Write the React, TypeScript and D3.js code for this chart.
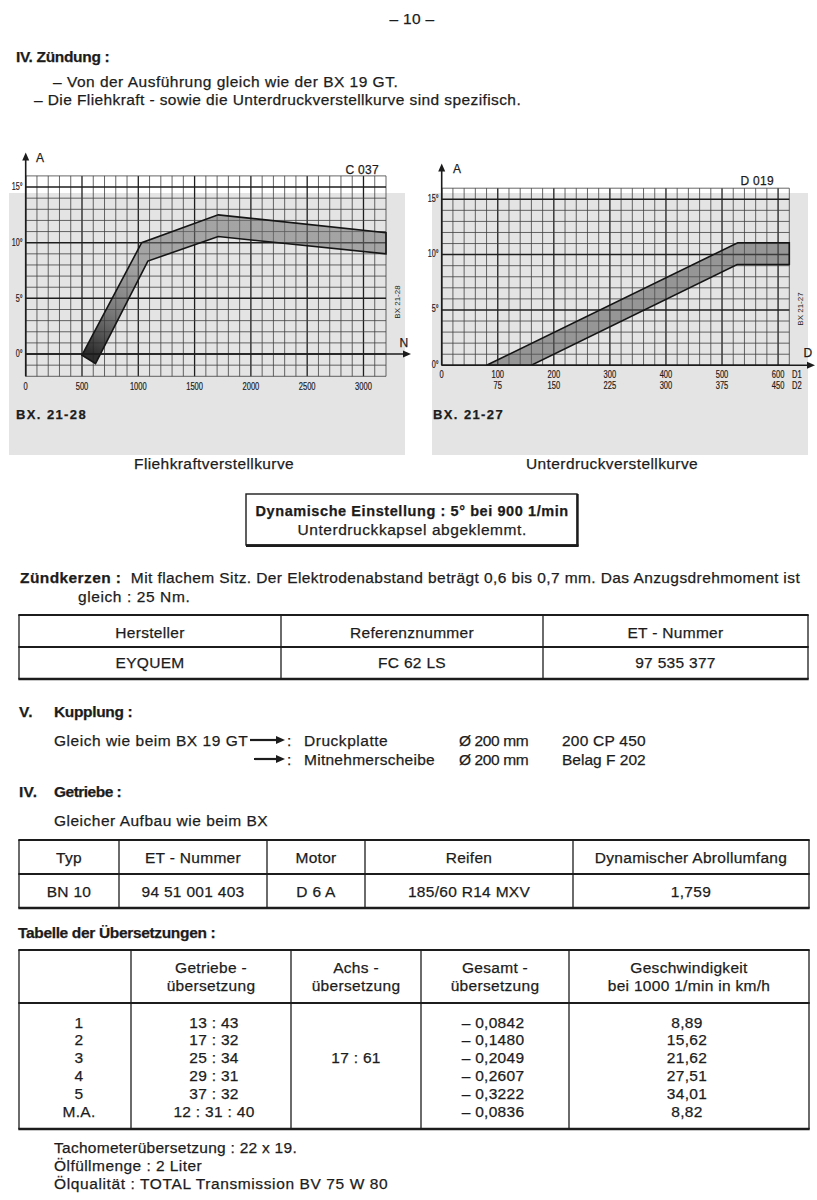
import { useEffect, useRef } from 'react';
import * as d3 from 'd3';

const W = 817;
const H = 1200;
const FONT = "'Liberation Sans', Arial, Helvetica, sans-serif";
const INK = '#1c1c1c';

// Fliehkraftverstellkurve (BX 21-28): advance in degrees over engine speed (1/min)
const fliehUpper: [number, number][] = [[500, -0.1], [1030, 10], [1710, 12.5], [3200, 10.9]];
const fliehLower: [number, number][] = [[620, -0.85], [1085, 8.35], [1710, 10.55], [3200, 9.0]];
const fliehXTicks = [0, 500, 1000, 1500, 2000, 2500, 3000];

// Unterdruckverstellkurve (BX 21-27): advance in degrees over depression D1 / D2
const unterUpper: [number, number][] = [[80, 0], [528, 11.07], [620, 11.07]];
const unterLower: [number, number][] = [[160, 0], [527, 9.1], [620, 9.1]];
const unterD1Ticks = [0, 100, 200, 300, 400, 500, 600];
const unterD2Ticks = ['', '75', '150', '225', '300', '375', '450'];

const degTicks = [0, 5, 10, 15];

// Zündkerzen
const plugHeader = ['Hersteller', 'Referenznummer', 'ET - Nummer'];
const plugRow = ['EYQUEM', 'FC 62 LS', '97 535 377'];

// Getriebe
const gearboxHeader = ['Typ', 'ET - Nummer', 'Motor', 'Reifen', 'Dynamischer Abrollumfang'];
const gearboxRow = ['BN 10', '94 51 001 403', 'D 6 A', '185/60 R14 MXV', '1,759'];

// Tabelle der Übersetzungen
const ratioHeader = [[''], ['Getriebe -', 'übersetzung'], ['Achs -', 'übersetzung'], ['Gesamt -', 'übersetzung'], ['Geschwindigkeit', 'bei 1000 1/min in km/h']];
const gears = ['1', '2', '3', '4', '5', 'M.A.'];
const gearRatios = ['13 : 43', '17 : 32', '25 : 34', '29 : 31', '37 : 32', '12 : 31 : 40'];
const axleRatio = '17 : 61';
const totalRatios = ['– 0,0842', '– 0,1480', '– 0,2049', '– 0,2607', '– 0,3222', '– 0,0836'];
const speeds = ['8,89', '15,62', '21,62', '27,51', '34,01', '8,82'];

type TOpts = { size?: number; anchor?: string; bold?: boolean; len?: number };

export default function App() {
    const ref = useRef<SVGSVGElement | null>(null);

    useEffect(() => {
        if (!ref.current) return;
        const svg = d3.select(ref.current).attr('width', W).attr('height', H);
        svg.selectAll('*').remove();
        svg.append('rect').attr('width', W).attr('height', H).attr('fill', '#ffffff');

        const g = svg.append('g').attr('font-family', FONT).attr('fill', INK);

        const text = (x: number, y: number, s: string, o: TOpts = {}) => {
            const t = g
                .append('text')
                .attr('x', x)
                .attr('y', y)
                .attr('dominant-baseline', 'central')
                .attr('font-size', o.size ?? 15.5)
                .attr('text-anchor', o.anchor ?? 'start')
                .attr('letter-spacing', 0.3)
                .attr('stroke', INK)
                .attr('stroke-width', 0.25)
                .style('white-space', 'pre')
                .text(s);
            if (o.bold) t.attr('font-weight', 'bold');
            if (o.len) t.attr('textLength', o.len).attr('lengthAdjust', 'spacing');
            return t;
        };

        // condensed small print used on the charts
        const small = (x: number, y: number, s: string, anchor = 'middle', size = 10.5) =>
            g
                .append('text')
                .attr('transform', `translate(${x},${y}) scale(0.72,1)`)
                .attr('text-anchor', anchor)
                .attr('dominant-baseline', 'central')
                .attr('font-size', size)
                .attr('stroke', INK)
                .attr('stroke-width', 0.2)
                .text(s);

        const line = (x1: number, y1: number, x2: number, y2: number, w: number, color = INK) =>
            g
                .append('line')
                .attr('x1', x1)
                .attr('y1', y1)
                .attr('x2', x2)
                .attr('y2', y2)
                .attr('stroke', color)
                .attr('stroke-width', w);

        const head = (x: number, y: number, dir: 'up' | 'right', len = 8, half = 3.5) => {
            const pts =
                dir === 'up'
                    ? [[x, y], [x - half, y + len], [x + half, y + len]]
                    : [[x, y], [x - len, y - half], [x - len, y + half]];
            g.append('path').attr('d', d3.line()(pts as [number, number][]) + 'Z').attr('fill', INK);
        };

        // ---------- page heading ----------
        text(412, 18, '– 10 –', { anchor: 'middle' });
        text(16, 56, 'IV. Zündung :', { bold: true, len: 94 });
        text(53, 81, '– Von der Ausführung gleich wie der BX 19 GT.', { len: 345 });
        text(34, 99, '– Die Fliehkraft - sowie die Unterdruckverstellkurve sind spezifisch.', { len: 487 });

        // ---------- grey scan panels ----------
        g.append('rect').attr('x', 9).attr('y', 193).attr('width', 396).attr('height', 262).attr('fill', '#e4e4e4');
        g.append('rect').attr('x', 432).attr('y', 193).attr('width', 376).attr('height', 262).attr('fill', '#e4e4e4');

        // ---------- charts ----------
        type ChartCfg = {
            x: d3.ScaleLinear<number, number>;
            y: d3.ScaleLinear<number, number>;
            xMax: number;
            xMinor: number;
            xMajor: number;
            yMin: number;
            yMax: number;
            upper: [number, number][];
            lower: [number, number][];
            fill: string;
        };

        const drawChart = (c: ChartCfg) => {
            const { x, y } = c;
            d3.range(0, c.xMax + 0.001, c.xMinor).forEach((v) => {
                const major = Math.abs(v % c.xMajor) < 1e-6;
                line(x(v), y(c.yMin), x(v), y(c.yMax), major ? 1.3 : 0.8, major ? '#1e1e1e' : '#404040');
            });
            d3.range(c.yMin, c.yMax + 0.001, 1).forEach((v) => {
                const major = v % 5 === 0;
                line(x(0), y(v), x(c.xMax), y(v), major ? 1.5 : 0.8, major ? '#1e1e1e' : '#404040');
            });
            const path = d3
                .line<[number, number]>()
                .x((d) => x(d[0]))
                .y((d) => y(d[1]));
            const pts = [...c.upper, ...[...c.lower].reverse()];
            g.append('path')
                .attr('d', path(pts) + 'Z')
                .attr('fill', c.fill)
                .attr('stroke', '#151515')
                .attr('stroke-width', 1.6)
                .attr('stroke-linejoin', 'miter');
        };

        // left: Fliehkraft
        const xL = d3.scaleLinear().domain([0, 3200]).range([25.7, 386]);
        const yL = d3.scaleLinear().domain([-2, 16]).range([376.3, 175.9]);

        const defs = svg.append('defs');
        const grad = defs
            .append('linearGradient')
            .attr('id', 'fliehGrad')
            .attr('gradientUnits', 'userSpaceOnUse')
            .attr('x1', xL(600))
            .attr('y1', yL(0))
            .attr('x2', xL(1000))
            .attr('y2', yL(8));
        grad.append('stop').attr('offset', 0).attr('stop-color', '#1e1e1e').attr('stop-opacity', 0.92);
        grad.append('stop').attr('offset', 0.45).attr('stop-color', '#4a4a4a').attr('stop-opacity', 0.7);
        grad.append('stop').attr('offset', 1).attr('stop-color', '#707070').attr('stop-opacity', 0.55);

        drawChart({
            x: xL,
            y: yL,
            xMax: 3200,
            xMinor: 100,
            xMajor: 500,
            yMin: -2,
            yMax: 16,
            upper: fliehUpper,
            lower: fliehLower,
            fill: 'url(#fliehGrad)',
        });
        // axes
        line(xL(0), yL(-2), xL(0), 160, 1.6);
        head(xL(0), 152.5, 'up');
        line(xL(0), yL(0), 403, yL(0), 1.6);
        head(411, yL(0), 'right');
        text(36, 158, 'A', { size: 12 });
        text(404, 343, 'N', { size: 12, anchor: 'middle' });
        text(379, 170, 'C 037', { size: 12, anchor: 'end' });
        degTicks.forEach((v) => small(xL(0) - 3, yL(v), `${v}°`, 'end', 10));
        fliehXTicks.forEach((v) => small(xL(v), 387, String(v)));
        g.append('text')
            .attr('transform', 'translate(397,302) rotate(-90)')
            .attr('text-anchor', 'middle')
            .attr('dominant-baseline', 'central')
            .attr('font-size', 8)
            .text('BX 21-28');
        text(16, 414, 'BX. 21-28', { size: 13, bold: true, len: 70 });

        // right: Unterdruck
        const xR = d3.scaleLinear().domain([0, 620]).range([441.7, 789.3]);
        const yR = d3.scaleLinear().domain([0, 16]).range([365.3, 188.2]);
        drawChart({
            x: xR,
            y: yR,
            xMax: 620,
            xMinor: 20,
            xMajor: 100,
            yMin: 0,
            yMax: 16,
            upper: unterUpper,
            lower: unterLower,
            fill: 'rgba(85,85,85,0.55)',
        });
        line(xR(0), yR(0), xR(0), 171, 1.6);
        head(xR(0), 163.5, 'up');
        line(xR(0), yR(0), 807, yR(0), 1.6);
        head(815, yR(0), 'right');
        text(453, 169, 'A', { size: 12 });
        text(808, 353, 'D', { size: 12, anchor: 'middle' });
        text(774, 181, 'D 019', { size: 12, anchor: 'end' });
        degTicks.forEach((v) => small(xR(0) - 3, yR(v) - 1, `${v}°`, 'end', 10));
        unterD1Ticks.forEach((v) => small(xR(v), 375, String(v)));
        unterD2Ticks.forEach((s, i) => small(xR(unterD1Ticks[i]), 385.5, s));
        small(792, 375, 'D1', 'start');
        small(792, 385.5, 'D2', 'start');
        g.append('text')
            .attr('transform', 'translate(800,309) rotate(-90)')
            .attr('text-anchor', 'middle')
            .attr('dominant-baseline', 'central')
            .attr('font-size', 8)
            .text('BX 21-27');
        text(433, 414, 'BX. 21-27', { size: 13, bold: true, len: 70 });

        text(214, 463, 'Fliehkraftverstellkurve', { anchor: 'middle', len: 160 });
        text(612, 463, 'Unterdruckverstellkurve', { anchor: 'middle', len: 172 });

        // ---------- boxed setting ----------
        g.append('rect')
            .attr('x', 246)
            .attr('y', 494)
            .attr('width', 331)
            .attr('height', 51)
            .attr('fill', 'none')
            .attr('stroke', INK)
            .attr('stroke-width', 1.4);
        line(246, 545.6, 578.5, 545.6, 2.6);
        line(577.6, 494, 577.6, 546.5, 2.2);
        text(412, 511, 'Dynamische Einstellung : 5° bei 900 1/min', { anchor: 'middle', bold: true, size: 14.5, len: 313 });
        text(412, 529, 'Unterdruckkapsel abgeklemmt.', { anchor: 'middle', len: 229 });

        // ---------- Zündkerzen ----------
        const zk = text(20, 577, '', { len: 780 });
        zk.append('tspan').attr('font-weight', 'bold').text('Zündkerzen :');
        zk.append('tspan').text('  Mit flachem Sitz. Der Elektrodenabstand beträgt 0,6 bis 0,7 mm. Das Anzugsdrehmoment ist');
        text(78, 596, 'gleich : 25 Nm.', { len: 112 });

        // generic ruled table
        const table = (cols: number[], rows: number[], heavy: number[]) => {
            rows.forEach((yy, i) => line(cols[0] - 0.7, yy, cols[cols.length - 1] + 0.7, yy, heavy[i]));
            cols.forEach((xx) => line(xx, rows[0], xx, rows[rows.length - 1], 1.3));
            return cols.slice(1).map((xx, i) => (xx + cols[i]) / 2);
        };

        const c1 = table([19, 281, 543, 808], [615, 647, 679], [1.8, 2.2, 2.6]);
        plugHeader.forEach((s, i) => text(c1[i], 632, s, { anchor: 'middle' }));
        plugRow.forEach((s, i) => text(c1[i], 662, s, { anchor: 'middle' }));

        // ---------- Kupplung ----------
        text(19, 711, 'V.', { bold: true });
        text(54, 711, 'Kupplung :', { bold: true, len: 79 });
        const kuppRows = [740, 759];
        text(54, kuppRows[0], 'Gleich wie beim BX 19 GT', { len: 194 });
        kuppRows.forEach((yy, i) => {
            line(i === 0 ? 250 : 254, yy, 277, yy, 2.2);
            head(285, yy, 'right', 9, 4);
            text(287, yy, ':');
        });
        text(304, kuppRows[0], 'Druckplatte', { len: 84 });
        text(304, kuppRows[1], 'Mitnehmerscheibe', { len: 131 });
        text(459, kuppRows[0], 'Ø 200 mm', { len: 70 });
        text(459, kuppRows[1], 'Ø 200 mm', { len: 70 });
        text(562, kuppRows[0], '200 CP 450', { len: 84 });
        text(562, kuppRows[1], 'Belag F 202', { len: 84 });

        // ---------- Getriebe ----------
        text(19, 791, 'IV.', { bold: true });
        text(54, 791, 'Getriebe :', { bold: true, len: 68 });
        text(54, 820, 'Gleicher Aufbau wie beim BX', { len: 214 });

        const c2 = table([19, 119, 267, 365, 573, 809], [840, 874, 908], [1.8, 2.2, 2.6]);
        gearboxHeader.forEach((s, i) => text(c2[i], 857, s, { anchor: 'middle' }));
        gearboxRow.forEach((s, i) => text(c2[i], 891, s, { anchor: 'middle' }));

        // ---------- Übersetzungen ----------
        text(18, 932, 'Tabelle der Übersetzungen :', { bold: true, len: 198 });
        const c3 = table([19, 131, 291, 421, 569, 809], [950, 1003, 1129], [1.8, 2.2, 2.6]);
        ratioHeader.forEach((lines, i) => lines.forEach((s, j) => text(c3[i], j === 0 ? 967 : 985, s, { anchor: 'middle' })));
        const rowY = d3.scalePoint<string>().domain(gears).range([1022, 1111]);
        gears.forEach((gear, i) => {
            const yy = rowY(gear) ?? 0;
            text(c3[0] + 4, yy, gear, { anchor: 'middle' });
            text(c3[1] + 3, yy, gearRatios[i], { anchor: 'middle' });
            text(c3[3] - 2, yy, totalRatios[i], { anchor: 'middle' });
            text(c3[4] - 2, yy, speeds[i], { anchor: 'middle' });
        });
        text(c3[2], rowY('3') ?? 0, axleRatio, { anchor: 'middle' });

        text(54, 1147, 'Tachometerübersetzung : 22 x 19.', { len: 243 });
        text(54, 1165, 'Ölfüllmenge : 2 Liter', { len: 148 });
        text(54, 1183, 'Ölqualität : TOTAL Transmission BV 75 W 80', { len: 334 });
    }, []);

    return <svg ref={ref} style={{ position: 'absolute', left: 0, top: 0, display: 'block' }} />;
}
